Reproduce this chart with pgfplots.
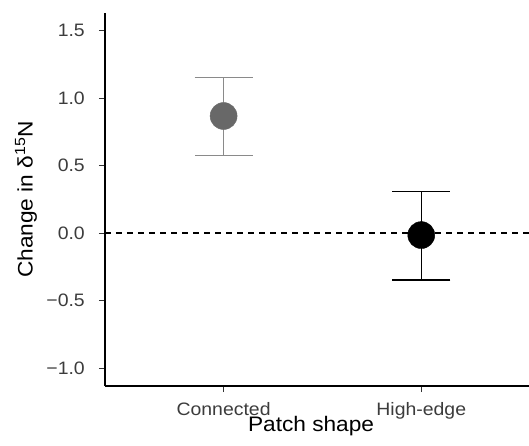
\documentclass[border=0pt]{standalone}
\usepackage{fontspec}
\setmainfont[FakeStretch=1.08]{Liberation Sans}
\usepackage{pgfplots}
\pgfplotsset{compat=1.18}
\definecolor{ptgray}{RGB}{104,104,104}
\definecolor{bargray}{RGB}{138,138,138}
\definecolor{tickcol}{RGB}{51,51,51}
\definecolor{labcol}{RGB}{60,60,60}
\begin{document}
\begin{tikzpicture}
\useasboundingbox (-105pt,-59pt) rectangle (424pt,386pt);
\begin{axis}[
  at={(0,0)}, anchor=south west,
  scale only axis, width=424pt, height=373pt,
  xmin=0.4, xmax=2.545, ymin=-1.133, ymax=1.63,
  axis x line*=bottom, axis y line*=left,
  axis line style={line width=1.3pt, black},
  xtick={1,2}, xticklabels={Connected,High-edge},
  ytick={-1,-0.5,0,0.5,1,1.5}, yticklabels={−1.0,−0.5,0.0,0.5,1.0,1.5},
  tick align=outside, major tick length=6pt,
  tick style={line width=1pt, color=tickcol},
  ticklabel style={font=\fontsize{18}{20}\selectfont, text=labcol},
  yticklabel style={anchor=east, inner sep=0pt, xshift=-14pt},
  xticklabel style={anchor=base, inner sep=0pt, yshift=-23pt},
  xlabel={Patch shape},
  xlabel style={font=\fontsize{21}{24}\selectfont, text=black, at={(axis description cs:0.486,0)}, anchor=base, inner sep=0pt, yshift=-45pt},
  ylabel={Change in δ\textsuperscript{15}N},
  ylabel style={font=\fontsize{21}{24}\selectfont, text=black, at={(axis description cs:-0.160,0.5)}, anchor=south, inner sep=0pt, rotate=0},
]
\addplot[black, line width=1.3pt, dash pattern=on 6pt off 5pt] coordinates {(0.4,0) (2.545,0)};
\addplot[only marks, mark=*, mark size=13.5pt, color=ptgray,
  error bars/.cd, y dir=both, y explicit,
  error bar style={line width=1.3pt, bargray},
  error mark options={rotate=90, line width=1.3pt, bargray, mark size=29pt}]
  coordinates {(1,0.867) += (0,0.286) -= (0,0.292)};
\addplot[only marks, mark=*, mark size=13.5pt, color=black,
  error bars/.cd, y dir=both, y explicit,
  error bar style={line width=1.5pt, black},
  error mark options={rotate=90, line width=1.5pt, black, mark size=29pt}]
  coordinates {(2,-0.015) += (0,0.321) -= (0,0.333)};
\end{axis}
\end{tikzpicture}
\end{document}
